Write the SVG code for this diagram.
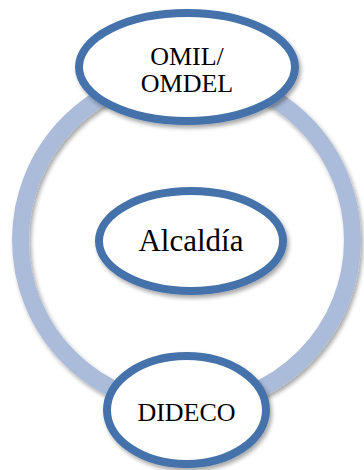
<svg xmlns="http://www.w3.org/2000/svg" width="364" height="470" viewBox="0 0 364 470">
<style>
.ring{fill:none;stroke:#abbcdb;stroke-width:17}
.node{fill:#ffffff;stroke:#4572aa;stroke-width:8}
.lbl{font-family:"Liberation Serif","Times New Roman",serif;fill:#000;text-anchor:middle}
</style>
<defs>
<filter id="sh" x="-20%" y="-20%" width="140%" height="140%">
<feDropShadow dx="2" dy="3" stdDeviation="2" flood-color="#000" flood-opacity="0.35"/>
</filter>
</defs>
<rect width="364" height="470" fill="#ffffff"/>
<g id="connectors">
<circle class="ring" cx="186.5" cy="240" r="166" filter="url(#sh)"/>
</g>
<g id="node-omil">
<ellipse class="node" cx="187" cy="67" rx="108" ry="54" filter="url(#sh)"/>
<text class="lbl" x="187" y="65" font-size="26">OMIL/</text>
<text class="lbl" x="187" y="92" font-size="26">OMDEL</text>
</g>
<g id="node-alcaldia">
<ellipse class="node" cx="191" cy="241" rx="92" ry="50" filter="url(#sh)"/>
<text class="lbl" x="191" y="251" font-size="31">Alcaldía</text>
</g>
<g id="node-dideco">
<ellipse class="node" cx="186.5" cy="410" rx="79.5" ry="54" filter="url(#sh)"/>
<text class="lbl" x="186.5" y="421" font-size="26">DIDECO</text>
</g>
</svg>
